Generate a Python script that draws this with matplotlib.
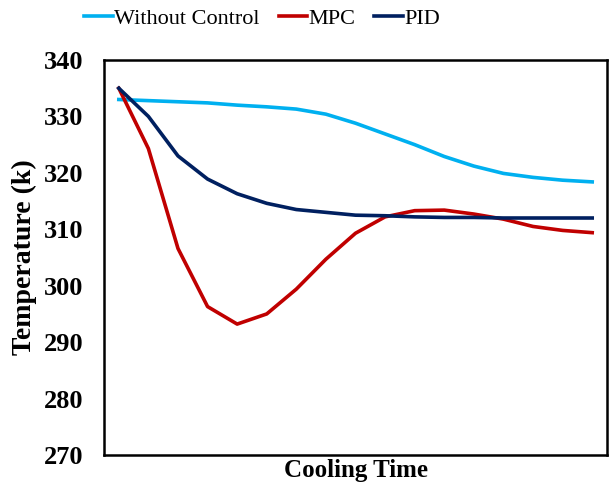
import numpy as np
import matplotlib
matplotlib.use("Agg")
import matplotlib.pyplot as plt

plt.rcParams['font.family'] = ['Liberation Serif', 'DejaVu Serif']

# cooling time steps (categories)
steps = np.arange(1, 18)

# temperature readings (K)
without_control = [333.0, 332.8, 332.6, 332.4, 332.0, 331.7, 331.3, 330.4, 328.8,
                   326.9, 325.0, 322.9, 321.2, 319.9, 319.2, 318.7, 318.4]
mpc = [335.0, 324.3, 306.6, 296.3, 293.2, 295.0, 299.4, 304.7, 309.3,
       312.2, 313.3, 313.4, 312.7, 311.8, 310.5, 309.8, 309.4]
pid = [335.0, 330.0, 323.0, 318.9, 316.3, 314.6, 313.5, 313.0, 312.5,
       312.4, 312.2, 312.1, 312.1, 312.0, 312.0, 312.0, 312.0]

fig = plt.figure(figsize=(6.14, 4.87), dpi=100)
ax = fig.add_axes([0.1694, 0.0657, 0.8192, 0.8111])

ax.plot(steps, without_control, color='#00B0F0', lw=2.6, label='Without Control')
ax.plot(steps, mpc, color='#C00000', lw=2.6, label='MPC')
ax.plot(steps, pid, color='#002060', lw=2.6, label='PID')

ax.set_xlim(0.5, 17.5)
ax.set_ylim(270, 340)
ax.set_yticks(np.arange(270, 341, 10))
ax.set_xticks([])
ax.tick_params(axis='y', length=0, pad=15, labelsize=19)
for lbl in ax.get_yticklabels():
    lbl.set_fontweight('bold')

for sp in ax.spines.values():
    sp.set_linewidth(1.8)
    sp.set_color('black')

ax.set_ylabel('Temperature (k)', fontsize=20, fontweight='bold')
ax.yaxis.set_label_coords(-0.133, 0.5)
ax.set_xlabel('Cooling Time', fontsize=18, fontweight='bold', labelpad=3)

fig.legend(loc='center', bbox_to_anchor=(0.427, 0.962), ncol=3, frameon=False,
           fontsize=16, handlelength=1.3, handletextpad=0.05, columnspacing=0.85)

fig.savefig('out.png', dpi=100)
